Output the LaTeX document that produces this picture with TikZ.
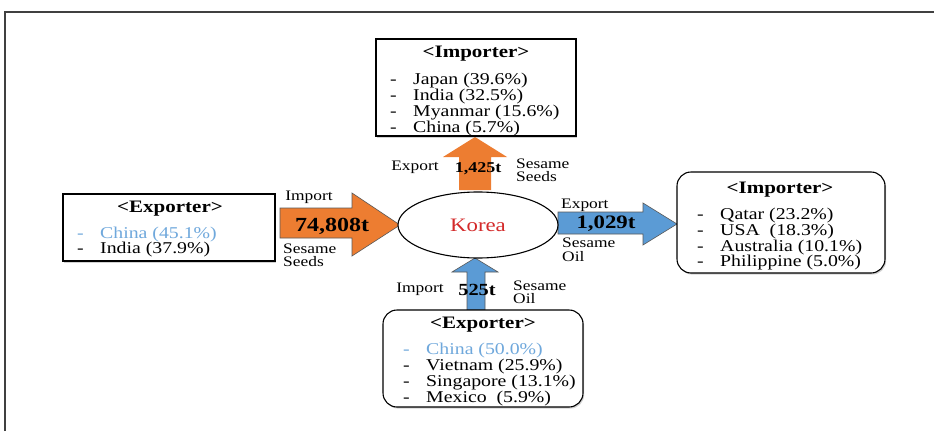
\documentclass[tikz,border=0pt]{standalone}
\usepackage{fontspec}
\setmainfont{Liberation Serif}
\usetikzlibrary{shapes.geometric,shadows}
\definecolor{arrOrange}{HTML}{ED7D31}
\definecolor{arrBlue}{HTML}{5B9BD5}
\definecolor{chinaBlue}{HTML}{6FA8DC}
\definecolor{koreaRed}{HTML}{D42A2A}
% slightly widened lettering
\newcommand{\widetxt}[1]{\scalebox{1.2}[1]{#1}}
% dashed list: #1 = line pitch, #2 = rows
\newcommand{\dashlist}[2]{\widetxt{\fontsize{16.5}{#1}\selectfont
  \begin{tabular}[t]{@{}l@{\hspace{13.7pt}}l@{}}#2\end{tabular}}}
\tikzset{
  listbox/.style={draw=black, line width=1.1pt, fill=white, inner sep=0pt,
    drop shadow={opacity=0.35, shadow xshift=1.2pt, shadow yshift=-1.6pt}},
  roundbox/.style={listbox, rounded corners=14pt},
  boxtitle/.style={font=\fontsize{17.5}{19}\selectfont\bfseries, inner sep=0pt},
  listtxt/.style={anchor=base west, inner sep=0pt},
  arrlabel/.style={font=\fontsize{14.5}{13.5}\selectfont, inner sep=0pt, align=left},
  amount/.style={font=\bfseries, inner sep=0pt},
  blockarrow/.style={draw=black!65, line width=0.6pt, line join=miter}
}
\begin{document}
\begin{tikzpicture}[x=1pt,y=-1pt]
\useasboundingbox (0,0) rectangle (934,431);
\fill[white] (0,0) rectangle (934,431);
% outer frame
\draw[line width=1.5pt, black!75] (5,431) -- (5,12) -- (934,12);

% block arrows
\fill[arrOrange] (459,190) -- (459,157) -- (443,157) -- (475,137) -- (507,157) -- (491,157) -- (491,190) -- cycle;
\draw[blockarrow, fill=arrOrange] (280,208) -- (352,208) -- (352,193) -- (400,225) -- (352,256) -- (352,238) -- (280,238) -- cycle;
\draw[blockarrow, fill=arrBlue] (558,212) -- (643,212) -- (643,203) -- (677,224) -- (643,245) -- (643,234) -- (558,234) -- cycle;
\draw[blockarrow, fill=arrBlue] (467,310) -- (467,272) -- (452,272) -- (475,258) -- (498,272) -- (485,272) -- (485,310) -- cycle;

% centre
\node[draw=black, line width=1.1pt, fill=white, ellipse, minimum width=160pt, minimum height=66pt, inner sep=0pt] (korea) at (478,225) {};
\node[font=\fontsize{19}{21}\selectfont, text=koreaRed, inner sep=0pt] (koreaTxt) at (korea.center) {\widetxt{Korea}};

% top importer box
\node[listbox, minimum width=200pt, minimum height=97pt] (topbox) at (476,87.5) {};
\node[boxtitle] (topTitle) at (476,54) {\widetxt{<Importer>}};
\node[listtxt] (topList) at (390,84.5) {\dashlist{14.7pt}{
  - & Japan (39.6\%)\\ - & India (32.5\%)\\ - & Myanmar (15.6\%)\\ - & China (5.7\%)}};

% left exporter box
\node[listbox, minimum width=212pt, minimum height=67pt] (leftbox) at (169,227.5) {};
\node[boxtitle] (leftTitle) at (170,209) {\widetxt{<Exporter>}};
\node[listtxt] (leftList) at (77,238) {\dashlist{15pt}{
  \color{chinaBlue}- & \color{chinaBlue}China (45.1\%)\\ - & India (37.9\%)}};

% right importer box
\node[roundbox, minimum width=208pt, minimum height=101pt] (rightbox) at (781,222.5) {};
\node[boxtitle] (rightTitle) at (780,190) {\widetxt{<Importer>}};
\node[listtxt] (rightList) at (697,219.5) {\dashlist{14.4pt}{
  - & Qatar (23.2\%)\\ - & USA\ \ (18.3\%)\\ - & Australia (10.1\%)\\ - & Philippine (5.0\%)}};

% bottom exporter box
\node[roundbox, minimum width=200pt, minimum height=97pt] (botbox) at (483,358.5) {};
\node[boxtitle] (botTitle) at (483,325) {\widetxt{<Exporter>}};
\node[listtxt] (botList) at (403,354) {\dashlist{15.2pt}{
  \color{chinaBlue}- & \color{chinaBlue}China (50.0\%)\\ - & Vietnam (25.9\%)\\ - & Singapore (13.1\%)\\ - & Mexico\ \ (5.9\%)}};

% arrow labels
\node[arrlabel] (expTop) at (415,167) {\widetxt{Export}};
\node[amount, font=\fontsize{15}{17}\selectfont\bfseries] (amtTop) at (478,169) {\widetxt{1,425t}};
\node[arrlabel, anchor=west] (seedsTop) at (516,170.5) {\widetxt{Sesame}\\\widetxt{Seeds}};

\node[arrlabel] (impLeft) at (309,197) {\widetxt{Import}};
\node[amount, font=\fontsize{20}{22}\selectfont\bfseries] (amtLeft) at (332,226) {\widetxt{74,808t}};
\node[arrlabel, anchor=west] (seedsLeft) at (283,255.5) {\widetxt{Sesame}\\\widetxt{Seeds}};

\node[arrlabel, anchor=west] (expRight) at (561,205) {\widetxt{Export}};
\node[amount, font=\fontsize{19}{21}\selectfont\bfseries] (amtRight) at (606,224) {\widetxt{1,029t}};
\node[arrlabel, anchor=west] (oilRight) at (562,250) {\widetxt{Sesame}\\\widetxt{Oil}};

\node[arrlabel] (impBot) at (420,289) {\widetxt{Import}};
\node[amount, font=\fontsize{17}{19}\selectfont\bfseries] (amtBot) at (477,290) {\widetxt{525t}};
\node[arrlabel, anchor=west] (oilBot) at (513,292.5) {\widetxt{Sesame}\\\widetxt{Oil}};
\end{tikzpicture}
\end{document}
